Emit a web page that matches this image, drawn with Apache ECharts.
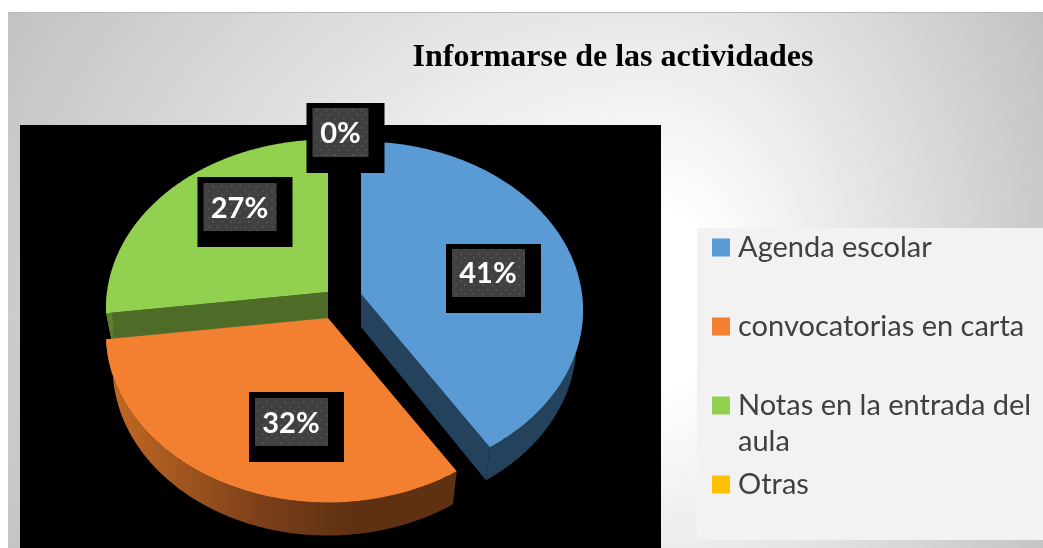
<!DOCTYPE html>
<html><head><meta charset="utf-8">
<style>html,body{margin:0;padding:0;background:#fff}#c{width:1043px;height:548px}</style>
<script src="https://cdn.jsdelivr.net/npm/echarts@6/dist/echarts.min.js"></script>
</head><body><div id="c"></div>
<script>
const titleText = 'Informarse de las actividades';
const categories = ['Agenda escolar', 'convocatorias en carta', 'Notas en la entrada del aula', 'Otras'];
const values = [41, 32, 27, 0];
const colors = ['#5B9BD5', '#F28030', '#92D050', '#FFC000'];
const sideColors = ['#25425C', '#5F3112', '#4F6B28', '#7F6000'];
const wallLight = ['#25425C', '#C46A24', '#5F7F30', '#7F6000'];

// Drawing layout (pixels)
const R = 221, B = 167, PERSP = 0.095, DEPTH = 33, BASE_SCALE = 0.97;
const apex = [[361, 294], [328, 318], [328, 292], [345, 295]];
const labelCenter = [[488, 273], [291, 423], [239.5, 208], [340.5, 133]];
const labelBox = [[-42, -29, 95, 69], [-42, -31, 95, 70], [-42, -31, 95, 70], [-34, -30, 78, 70]];
const labelPanel = [[-36, -24, 73, 48], [-36, -25, 73, 48], [-36, -25, 73, 48], [-28, -25, 56, 49]];

const total = values.reduce((a, b) => a + b, 0);
const starts = values.map((_, i) => values.slice(0, i).reduce((a, b) => a + b, 0) / total * Math.PI * 2);
const ends = values.map((v, i) => starts[i] + v / total * Math.PI * 2);

function proj(i, t, base) {
  const X = Math.sin(t), Y = -Math.cos(t);
  const s = 1 / (1 - PERSP * Y);
  const f = base ? BASE_SCALE : 1;
  return [apex[i][0] + R * X * s * f, apex[i][1] + B * Y * s + (base ? DEPTH : 0)];
}
function arc(i, a, b, base) {
  const n = Math.max(2, Math.ceil((b - a) / 0.01)), pts = [];
  for (let k = 0; k <= n; k++) pts.push(proj(i, a + (b - a) * k / n, base));
  return pts;
}
const pattern = (function () {
  const c = document.createElement('canvas');
  c.width = 9; c.height = 9;
  const g = c.getContext('2d');
  g.fillStyle = '#404040'; g.fillRect(0, 0, 9, 9);
  g.fillStyle = '#505050'; g.fillRect(1, 1, 2, 2); g.fillRect(5, 5, 2, 2);
  return c;
})();

function renderSlice(i) {
  return function () {
    const a = starts[i], b = ends[i];
    const kids = [];
    if (b - a <= 0) return { type: 'group', children: [] };
    const poly = (points, fill) => kids.push({ type: 'polygon', shape: { points }, style: { fill } });
    const cutAngle = i === 0 ? b : (i === 2 ? a : null);
    if (cutAngle !== null) {
      poly([apex[i], proj(i, cutAngle), proj(i, cutAngle, true), [apex[i][0], apex[i][1] + DEPTH]], sideColors[i]);
    }
    const wa = Math.max(a, Math.PI / 2), wb = Math.min(b, Math.PI * 1.5);
    if (wb > wa) {
      const top = arc(i, wa, wb), bot = arc(i, wa, wb, true).reverse();
      const xs = top.map(p => p[0]);
      const x0 = Math.min(...xs), x1 = Math.max(...xs);
      kids.push({ type: 'polygon', shape: { points: top.concat(bot) }, style: {
        fill: new echarts.graphic.LinearGradient(x0, 0, x1, 0, i === 1
          ? [{ offset: 0, color: wallLight[1] }, { offset: 0.45, color: '#7A3F18' }, { offset: 0.7, color: sideColors[1] }, { offset: 1, color: sideColors[1] }]
          : [{ offset: 0, color: sideColors[i] }, { offset: 1, color: wallLight[i] }], true)
      } });
    }
    poly([apex[i]].concat(arc(i, a, b)), colors[i]);
    return { type: 'group', children: kids };
  };
}
function renderLabel(i) {
  return function () {
    const c = labelCenter[i], bx = labelBox[i], pn = labelPanel[i];
    return { type: 'group', children: [
      { type: 'rect', shape: { x: c[0] + bx[0], y: c[1] + bx[1], width: bx[2], height: bx[3] }, style: { fill: '#000' } },
      { type: 'rect', shape: { x: c[0] + pn[0], y: c[1] + pn[1], width: pn[2], height: pn[3] }, style: { fill: { image: pattern, repeat: 'repeat' } } },
      { type: 'text', style: { x: c[0], y: c[1] + 1, text: values[i] + '%', fill: '#fff', align: 'center', verticalAlign: 'middle',
        font: 'bold 29px Lato, Carlito, sans-serif' } }
    ] };
  };
}
const drawOrder = [2, 0, 1, 3];
const series = drawOrder.map((i, k) => ({
  type: 'custom', name: categories[i], coordinateSystem: 'none', silent: true, animation: false,
  z: 2 + k, itemStyle: { color: colors[i] }, data: [[values[i]]], renderItem: renderSlice(i), clip: false
}));
values.forEach((v, i) => series.push({
  type: 'custom', name: 'label-' + i, coordinateSystem: 'none', silent: true, animation: false, z: 10,
  data: [[v]], renderItem: renderLabel(i)
}));

// Background: elliptical glow, stretched differently to either side of its centre
const glow = { cx: 650, cy: 300, left: 732, right: 445, ry: 596 };
const glowFill = { type: 'radial', x: 0, y: 0, r: 1, global: true, colorStops: [
  { offset: 0, color: '#ffffff' }, { offset: 0.15, color: '#ffffff' }, { offset: 1, color: '#c2c2c2' }] };
function glowPart(x0, x1, ax) {
  const y0 = 12, y1 = 548;
  return { type: 'rect', z: -10, x: glow.cx, y: glow.cy, scaleX: ax, scaleY: glow.ry,
    shape: { x: (x0 - glow.cx) / ax, y: (y0 - glow.cy) / glow.ry, width: (x1 - x0) / ax, height: (y1 - y0) / glow.ry },
    style: { fill: glowFill } };
}

const chart = echarts.init(document.getElementById('c'), null, { renderer: 'canvas' });
chart.setOption({
  backgroundColor: '#fff',
  animation: false,
  title: { text: titleText, left: 613, top: 58, textAlign: 'center', textVerticalAlign: 'middle', padding: 0,
    textStyle: { fontFamily: '"Liberation Serif", serif', fontWeight: 'bold', fontSize: 32, color: '#000' } },
  legend: {
    orient: 'vertical', left: 712, top: 233, padding: 0, itemGap: 50, itemWidth: 18, itemHeight: 18, icon: 'rect',
    selectedMode: false, data: categories,
    formatter: n => n === categories[2] ? 'Notas en la entrada del' : n,
    textStyle: { fontFamily: 'Lato, Carlito, sans-serif', fontSize: 29, color: '#404040', padding: [0, 0, 0, 3], lineHeight: 24 }
  },
  graphic: [
    glowPart(8, glow.cx + 1, glow.left),
    glowPart(glow.cx, 1043, glow.right),
    { type: 'rect', z: -9, shape: { x: 8, y: 12, width: 1035, height: 1 }, style: { fill: '#b8b8b8' } },
    { type: 'rect', z: -8, shape: { x: 20, y: 125, width: 641, height: 423 }, style: { fill: '#000' } },
    { type: 'rect', z: -8, shape: { x: 697, y: 228, width: 346, height: 312 }, style: { fill: '#F2F2F2' } },
    { type: 'text', z: 5, style: { x: 738, y: 442, text: 'aula', fill: '#404040', verticalAlign: 'middle', font: '29px Lato, Carlito, sans-serif' } }
  ],
  series
});
</script></body></html>
